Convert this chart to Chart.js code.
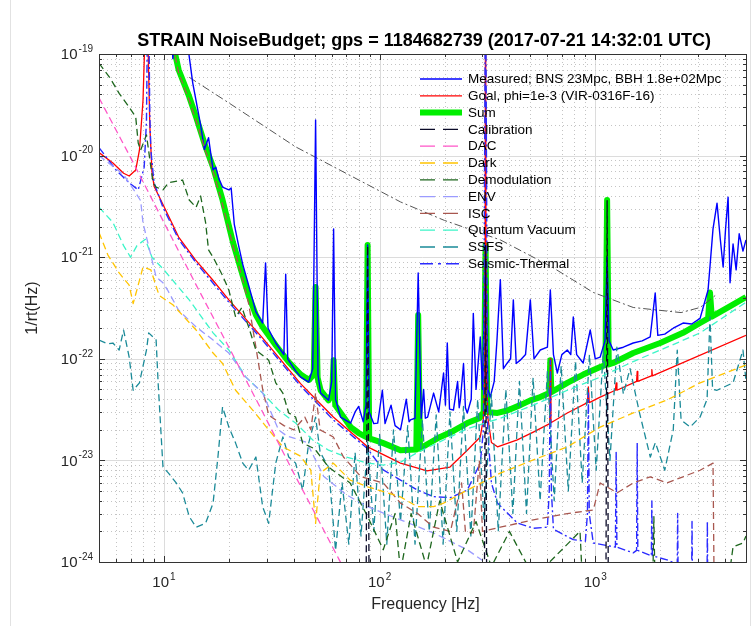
<!DOCTYPE html>
<html>
<head>
<meta charset="utf-8">
<script src="https://cdn.jsdelivr.net/npm/chart.js@4.4.1/dist/chart.umd.min.js"></script>
<style>
  html, body { margin: 0; padding: 0; background: #fff; }
  canvas { display: block; }
</style>
</head>
<body>
<canvas id="budget" width="753" height="626"></canvas>
<script>
// Amplitude spectral densities (strain / rtHz)
const measuredHz = [5, 10, 10.8, 11.0, 11.3, 12.5, 13.6, 14.8, 15.4, 16.1,
  16.6, 16.9, 17.4, 18.0, 18.7, 20.0, 20.5, 21.2, 22.2, 23.2,
  24.7, 25.8, 26.7, 28.7, 29.6, 30.4, 33.0, 36.0, 36.7, 37.5,
  40.8, 43.1, 46.9, 49.0, 50.5, 51.8, 53.3, 58.0, 60.0, 61.2,
  62.5, 65.9, 73.4, 77, 80, 84, 86.5, 88, 89.5, 94,
  98, 103, 106, 113, 118, 125, 133, 137, 139, 146, 151, 156, 160, 163, 167, 178,
  188, 198, 202, 206, 211, 220, 230, 234, 237, 245, 250, 255, 266, 272,
  280, 293, 300, 310, 318, 326, 340, 350, 363, 375,
  391, 405, 417, 430, 449, 475, 500, 520, 556, 600,
  619, 640, 667, 700, 742, 770, 791, 820, 879, 948,
  1000, 1054, 1110, 1135, 1160, 1211, 1350, 1500, 1650, 1798,
  1897, 1950, 2100, 2300, 2553, 2800, 3062, 3335, 3516, 3670,
  3800, 3917, 4020, 4130, 4217, 4355, 4500, 4650, 4841, 5000];
const measuredAsd = [3e-18, 1e-18, 2e-19, 9e-20, 2e-19, 2e-19, 5.2e-20, 2.0e-20, 1.15e-20, 1.5e-20,
  9.5e-21, 7.2e-21, 7.7e-21, 5.9e-21, 4.9e-21, 4.6e-21, 4.8e-21, 2.1e-21, 1.3e-21, 8.5e-22,
  5.3e-22, 3.8e-22, 2.9e-22, 2.25e-22, 8.8e-22, 2.0e-22, 1.43e-22, 1.1e-22, 6.8e-22, 1.0e-22,
  7.6e-23, 6.6e-23, 5.9e-23, 8e-23, 2.24e-20, 7e-23, 4.6e-23, 3.9e-23, 6e-23, 1.9e-21,
  4e-23, 2.67e-23, 2.33e-23, 3.0e-23, 3.4e-23, 2.4e-23, 3.5e-23, 1.32e-21, 3.0e-23, 2.3e-23,
  2.33e-23, 4.9e-23, 2.3e-23, 3.5e-23, 2.2e-23, 2.0e-23, 4e-23, 2.4e-23, 2.5e-23, 2.6e-23, 7e-22, 2.6e-23, 5e-23, 2.6e-23, 2.67e-23, 4.6e-23,
  3.0e-23, 7.25e-23, 3.5e-23, 1.43e-22, 3.2e-23, 3.13e-23, 6e-23, 3.3e-23, 3.93e-23, 9e-23, 3.3e-23, 2.93e-23, 4e-23, 2.8e-22,
  5e-23, 1.64e-22, 5e-23, 1.3e-21, 5e-23, 4.2e-23, 6e-23, 1.5e-22, 6e-22, 8e-23,
  9.1e-23, 1.0e-22, 3.8e-22, 9e-23, 9.7e-23, 1.1e-22, 3.8e-22, 1.0e-22, 1.22e-22, 1.3e-22,
  4.75e-22, 1.1e-22, 7.25e-23, 1.1e-22, 1.22e-22, 1.1e-22, 2.58e-22, 1.1e-22, 9.1e-23, 1.92e-22,
  1.0e-22, 1.04e-22, 1.5e-22, 1.0e-21, 1.5e-22, 1.22e-22, 1.3e-22, 1.43e-22, 1.5e-22, 1.64e-22,
  4.45e-22, 1.7e-22, 1.75e-22, 2.0e-22, 2.25e-22, 2.2e-22, 2.5e-22, 4.75e-22, 1.9e-21, 3.4e-21,
  1.5e-21, 8e-22, 1.9e-21, 3.9e-21, 5.6e-22, 1.35e-21, 7.5e-22, 1.7e-21, 1.15e-21, 1.48e-21];

const goalHz = [5, 5.8, 6.5, 6.9, 7.4, 7.7, 8.0, 8.2, 8.3, 8.4,
  8.6, 8.8, 9.0, 9.9, 11.7, 14, 16.8, 20, 28.7, 43,
  61, 88, 125, 166, 212, 255, 293, 303, 308, 310,
  312, 318, 330, 352, 435, 516, 615, 619, 623, 742,
  920, 929, 938, 1054, 1240, 1250, 1260, 1555, 1565, 1575,
  1820, 1830, 1840, 5000];
const goalAsd = [1.07e-20, 8.45e-21, 6.7e-21, 6.3e-21, 7.2e-21, 1.13e-20, 3.5e-20, 2e-19, 1e-18, 2e-19,
  2e-20, 7e-21, 5e-21, 3.3e-21, 1.58e-21, 9.4e-22, 6.0e-22, 3.8e-22, 1.6e-22, 5.7e-23,
  2.67e-23, 1.36e-23, 9.4e-24, 7.9e-24, 8.6e-24, 1.26e-23, 1.7e-23, 2.6e-23, 8e-23, 1e-18,
  8e-23, 2.6e-23, 1.5e-23, 1.36e-23, 1.59e-23, 1.9e-23, 2.3e-23, 1.0e-22, 2.35e-23, 2.93e-23,
  3.7e-23, 5.3e-23, 3.7e-23, 4.2e-23, 4.9e-23, 5.8e-23, 4.9e-23, 6e-23, 7.5e-23, 6e-23,
  6.8e-23, 7.8e-23, 6.8e-23, 1.7e-22];

const sumHz = [10.5, 11.7, 13.1, 14.1, 15.6, 16.9, 18.7, 20.9, 23.2, 24.7,
  26.7, 28.7, 33, 37.9, 43.1, 47, 49.5, 50.5, 51.6, 53.3,
  58, 60.3, 61.2, 62.3, 73.4, 80, 86.5, 88, 89.5, 98,
  104, 125, 148, 151, 154, 167, 191, 220, 255, 290,
  304, 310, 316, 352, 391, 449, 500, 556, 612, 619,
  626, 742, 879, 1054, 1115, 1135, 1155, 1211, 1500, 2000,
  2553, 3062, 3335, 3404, 3470, 4130, 5000];
const sumAsd = [2e-19, 7.0e-20, 3.8e-20, 2.4e-20, 1.22e-20, 7.7e-21, 3.66e-21, 1.4e-21, 6.6e-22, 4.2e-22,
  2.7e-22, 2.06e-22, 1.36e-22, 9.3e-23, 7.0e-23, 6.2e-23, 7e-23, 5.1e-22, 6.5e-23, 4.9e-23,
  3.9e-23, 4.5e-23, 9.7e-23, 3.5e-23, 2.13e-23, 1.86e-23, 1.7e-23, 1.32e-21, 1.65e-23, 1.55e-23,
  1.48e-23, 1.26e-23, 1.28e-23, 2.7e-22, 1.3e-23, 1.45e-23, 1.7e-23, 1.95e-23, 2.33e-23, 2.6e-23,
  3e-23, 1.32e-21, 3e-23, 2.93e-23, 3.1e-23, 3.5e-23, 3.9e-23, 4.2e-23, 4.6e-23, 9.7e-23,
  4.7e-23, 5.8e-23, 7e-23, 8.3e-23, 8.7e-23, 3.66e-21, 8.8e-23, 9.1e-23, 1.14e-22, 1.43e-22,
  1.8e-22, 2.25e-22, 2.5e-22, 4.5e-22, 2.6e-22, 3.2e-22, 4.06e-22];

const calibHz = [5, 86.5, 88, 89.5, 306, 310, 314, 1120, 1135, 1150, 5000];
const calibAsd = [3e-25, 3e-25, 1.3e-21, 3e-25, 3e-25, 1.3e-21, 3e-25, 3e-25, 3.6e-21, 3e-25, 3e-25];

const dacHz = [5, 7, 10, 14, 20, 28, 40, 52, 65, 90];
const dacAsd = [3.7e-20, 9.6e-21, 2.2e-21, 5.5e-22, 1.3e-22, 3.3e-23, 7.5e-24, 2.6e-24, 1.05e-24, 2.8e-25];

const darkHz = [5, 5.5, 6.2, 6.9, 7.2, 7.5, 8.0, 8.7, 9.5, 11,
  14.1, 16.9, 18.7, 21.5, 25.8, 30.6, 35.6, 43, 48, 50.5,
  53, 61, 73, 88, 125, 150, 178, 198, 255, 363,
  516, 742, 1054, 1500, 2153, 3062, 5000];
const darkAsd = [1.75e-21, 1.05e-21, 7e-22, 5.3e-22, 3.5e-22, 4.8e-22, 8e-22, 7.5e-22, 4.2e-22, 3.4e-22,
  1.92e-22, 1.14e-22, 9e-23, 4.9e-23, 3.13e-23, 2.0e-23, 1.36e-23, 1.1e-23, 8e-24, 2.4e-24,
  7.5e-24, 9.4e-24, 6.4e-24, 5.5e-24, 4.37e-24, 3.5e-24, 3.5e-24, 3.8e-24, 5.1e-24, 7.5e-24,
  1.01e-23, 1.36e-23, 2.13e-23, 2.93e-23, 3.93e-23, 5.8e-23, 8.7e-23];

const demodHz = [5, 5.6, 6.2, 6.9, 7.4, 7.6, 7.8, 8.3, 8.9, 9.2,
  9.9, 10.5, 12.2, 13.1, 14.1, 14.8, 15.6, 16.1, 16.9, 18.7,
  20, 21.5, 23, 24.7, 26.7, 30.6, 33, 35.6, 37.9, 40.8,
  44, 50, 58, 73, 88, 104, 118, 125, 140, 165,
  190, 230, 280, 330, 400, 520, 850, 870, 1850, 1870,
  1890, 4200, 4355, 4841, 5000];
const demodAsd = [8.1e-20, 5.9e-20, 4.1e-20, 3.0e-20, 2.4e-20, 1.33e-20, 1.13e-20, 1.6e-20, 5.4e-21, 4.9e-21,
  4.6e-21, 5.4e-21, 5.75e-21, 3.66e-21, 3.1e-21, 4e-21, 2.2e-21, 1.18e-21, 1.0e-21, 6.6e-22,
  4.75e-22, 2.58e-22, 3.2e-22, 2.06e-22, 1.22e-22, 9.7e-23, 5.8e-23, 4.6e-23, 2.93e-23, 2.67e-23,
  1.48e-23, 1.3e-23, 8.6e-24, 6e-24, 2.8e-24, 1.32e-24, 3e-24, 8e-25, 3e-24, 9e-25,
  4e-24, 1e-24, 2.5e-24, 9e-25, 2e-24, 7e-25, 2e-24, 7e-25, 7e-25, 2.8e-24,
  7e-25, 8e-25, 1.41e-24, 1.54e-24, 1.8e-24];

const envHz = [5, 6.5, 7.4, 7.8, 8.0, 9.2, 9.9, 10.4, 11.7, 14.1,
  16.9, 20, 24, 28.7, 34, 37, 46, 55, 70, 88,
  125, 178, 255, 330, 400];
const envAsd = [1.0e-20, 6.5e-21, 4.3e-21, 3.6e-21, 2.17e-21, 6.4e-22, 5.6e-22, 4.75e-22, 3.0e-22, 2.06e-22,
  1.53e-22, 1.14e-22, 6.6e-23, 4.6e-23, 2.0e-23, 1.75e-23, 1.5e-23, 7e-24, 4.6e-24, 3.5e-24,
  2.6e-24, 1.93e-24, 1.32e-24, 9e-25, 6e-25];

const iscHz = [10.5, 11.7, 13.1, 14.1, 15.6, 16.9, 18.7, 20.9, 23.2, 24.7,
  26.7, 28.7, 30.6, 33, 36, 40, 45, 48, 50.5, 53,
  61, 68, 82, 104, 125, 150, 178, 213, 240, 250,
  272, 290, 300, 363, 516, 742, 979, 1054, 1265, 1500,
  1800, 2153, 2553, 3062, 3516, 3560, 5000];
const iscAsd = [2e-19, 6.5e-20, 3.5e-20, 2.2e-20, 1.1e-20, 7e-21, 3.3e-21, 1.3e-21, 6e-22, 3.5e-22,
  1.3e-22, 5e-23, 2.8e-23, 2.5e-23, 2.2e-23, 2.0e-23, 2.67e-23, 2e-23, 4.6e-23, 2e-23,
  1.7e-23, 1.08e-23, 6.9e-24, 6e-24, 3.8e-24, 3e-24, 2.2e-24, 2e-24, 6e-24, 2e-24,
  1.93e-24, 1e-23, 2e-24, 2.2e-24, 2.6e-24, 3e-24, 3.25e-24, 6e-24, 4.8e-24, 6e-24,
  6.9e-24, 6e-24, 6.9e-24, 8e-24, 9.4e-24, 5e-25, 5e-25];

const qvHz = [5, 5.8, 6.5, 7.0, 7.5, 8.2, 8.8, 10, 13.1, 16.9,
  20, 24, 28.7, 34, 40.8, 49, 58, 70, 88, 104,
  125, 150, 255, 363, 516, 742, 1054, 1500, 2153, 3062,
  5000];
const qvAsd = [3.1e-21, 2.2e-21, 1.3e-21, 1.0e-21, 1.3e-21, 1.5e-21, 1.0e-21, 7.5e-22, 3.8e-22, 1.8e-22,
  1.22e-22, 6.6e-23, 4.6e-23, 3.13e-23, 2.33e-23, 1.59e-23, 1.26e-23, 1.08e-23, 9.4e-24, 9.0e-24,
  9.6e-24, 1.2e-23, 2.05e-23, 2.6e-23, 3.5e-23, 4.9e-23, 6.6e-23, 9.4e-23, 1.3e-22, 1.8e-22,
  3.6e-22];

const ssfsHz = [5, 5.5, 5.8, 6.2, 6.5, 6.9, 7.2, 7.7, 8.3, 8.5,
  9.2, 9.4, 9.9, 10.5, 11.4, 12.2, 13.1, 14.1, 15.6, 16.9,
  17.8, 18.7, 20, 21.5, 23.2, 24.7, 26.7, 28.7, 30.6, 33,
  35.6, 37.9, 40.8, 44, 46.9, 50.5, 53, 58, 62.5, 67,
  72, 77, 82, 88, 94, 100, 108, 116, 125, 135,
  146, 158, 170, 183, 197, 212, 228, 245, 265, 285,
  305, 330, 355, 385, 415, 445, 480, 515, 555, 600,
  645, 695, 750, 810, 870, 940, 1010, 1090, 1170, 1260,
  1350, 1450, 1600, 1800, 1900, 2100, 2300, 2400, 2500, 2754,
  3062, 3300, 3404, 3500, 3670, 4355, 4841, 5000];
const ssfsAsd = [1.53e-22, 1.4e-22, 1.43e-22, 1.22e-22, 1.92e-22, 1.04e-22, 4.9e-23, 5.8e-23, 1.22e-22, 1.8e-22,
  1.53e-22, 5.8e-23, 8.6e-24, 7.5e-24, 6e-24, 4.8e-24, 2.8e-24, 2.2e-24, 2.4e-24, 3.8e-24,
  1.08e-23, 3.36e-23, 2.13e-23, 1.48e-23, 9.4e-24, 8e-24, 1.08e-23, 3.5e-24, 2.4e-24, 9.4e-24,
  1.7e-23, 1.08e-23, 9.4e-24, 5.1e-24, 1.48e-23, 2.67e-23, 1.2e-23, 8.6e-24, 1.3e-24, 6e-24,
  1.5e-24, 1.2e-23, 1.8e-24, 1.5e-23, 2e-24, 1.8e-23, 1.5e-24, 2e-23, 2.5e-24, 2.2e-23,
  1.5e-24, 2.5e-23, 2e-24, 2.8e-23, 1.5e-24, 3e-23, 2e-24, 3.4e-23, 1.8e-24, 4e-23,
  2.5e-24, 4.5e-23, 2e-24, 5e-23, 3e-24, 6e-23, 3e-24, 6.5e-23, 4e-24, 7.5e-23,
  4e-24, 8.5e-23, 5e-24, 9.5e-23, 6e-24, 1.1e-22, 8e-24, 1.2e-22, 1e-23, 1.3e-22,
  4.5e-23, 8e-23, 3e-23, 1.08e-23, 1.5e-23, 8e-24, 2e-23, 1.22e-22, 2.5e-23, 2.13e-23,
  2.67e-23, 4e-23, 2.58e-22, 5e-23, 4.9e-23, 5.8e-23, 1.22e-22, 6e-23];

const seismicHz = [5, 6.0, 6.9, 7.6, 8.1, 8.3, 8.45, 8.6, 8.7, 9.0,
  9.9, 11.7, 14, 20, 28.7, 43, 61, 88, 104, 125,
  150, 178, 213, 255, 293, 303, 310, 317, 330, 352,
  435, 516, 600, 612, 619, 626, 640, 689, 791, 900,
  920, 929, 938, 979, 1240, 1250, 1260, 1500, 1555, 1565,
  1575, 1820, 1830, 1840, 2153, 2400, 2410, 2420, 2800, 2810,
  2820, 3300, 3310, 3320, 5000];
const seismicAsd = [1.2e-20, 7.2e-21, 5.4e-21, 4.6e-21, 7.7e-21, 2.2e-20, 1e-18, 2.5e-20, 1.13e-20, 5.4e-21,
  3.1e-21, 1.5e-21, 9.0e-22, 3.6e-22, 1.52e-22, 5.4e-23, 2.5e-23, 1.3e-23, 8.05e-24, 6.4e-24,
  5.1e-24, 4.4e-24, 4.3e-24, 5.1e-24, 9.4e-24, 2e-23, 1e-18, 2e-23, 6e-24, 3.8e-24,
  2.42e-24, 2.15e-24, 2.2e-24, 5e-24, 9.7e-23, 5e-24, 2.1e-24, 1.93e-24, 1.66e-24, 1.6e-24,
  3e-24, 4.6e-23, 3e-24, 1.54e-24, 1.4e-24, 1.2e-23, 1.4e-24, 1.23e-24, 1.3e-24, 1.48e-23,
  1.3e-24, 1.15e-24, 4e-24, 1.15e-24, 1.05e-24, 9.5e-25, 3e-24, 9.5e-25, 8.5e-25, 2.5e-24,
  8.5e-25, 7.5e-25, 2.5e-24, 7.5e-25, 5e-25];

// unlabelled grey dash-dot reference curve
const refHz = [13.1, 20, 40.8, 125, 200, 363, 630, 979, 1500, 2500, 3062, 3400, 3600];
const refAsd = [5.9e-20, 3.3e-20, 1.22e-20, 3.5e-21, 2.3e-21, 1.48e-21, 8e-22, 4.5e-22, 3.2e-22, 2.85e-22, 3.2e-22, 3.8e-22, 4.2e-22];

const xDecades = [1, 2, 3];
const yDecades = [-19, -20, -21, -22, -23, -24];

const FONT = '"Liberation Sans", Arial, Helvetica, sans-serif';
const DASH = [7, 4];
const DASHDOT = [8, 3, 2, 3];

const series = [
  { label: 'Measured; BNS 23Mpc, BBH 1.8e+02Mpc', hz: measuredHz, asd: measuredAsd, color: '#0000ff', width: 1.4, dash: [], order: 3 },
  { label: 'Goal, phi=1e-3 (VIR-0316F-16)', hz: goalHz, asd: goalAsd, color: '#ff0000', width: 1.3, dash: [], order: 2 },
  { label: 'Sum', hz: sumHz, asd: sumAsd, color: '#00ee00', width: 6, dash: [], order: 20 },
  { label: 'Calibration', hz: calibHz, asd: calibAsd, color: '#0a0a28', width: 1.3, dash: DASH, order: 1 },
  { label: 'DAC', hz: dacHz, asd: dacAsd, color: '#ff55c8', width: 1.3, dash: DASH, order: 1 },
  { label: 'Dark', hz: darkHz, asd: darkAsd, color: '#ffc400', width: 1.3, dash: DASH, order: 1 },
  { label: 'Demodulation', hz: demodHz, asd: demodAsd, color: '#1d661d', width: 1.3, dash: DASH, order: 1 },
  { label: 'ENV', hz: envHz, asd: envAsd, color: '#9b9bff', width: 1.3, dash: DASH, order: 1 },
  { label: 'ISC', hz: iscHz, asd: iscAsd, color: '#a8574f', width: 1.3, dash: DASH, order: 1 },
  { label: 'Quantum Vacuum', hz: qvHz, asd: qvAsd, color: '#3cf5c8', width: 1.3, dash: DASH, order: 1 },
  { label: 'SSFS', hz: ssfsHz, asd: ssfsAsd, color: '#1a8a98', width: 1.3, dash: DASH, order: 1 },
  { label: 'Seismic-Thermal', hz: seismicHz, asd: seismicAsd, color: '#2b2bff', width: 1.4, dash: DASHDOT, order: 1 },
  { label: '', hz: refHz, asd: refAsd, color: '#555555', width: 1, dash: DASHDOT, order: 4, hidden: true }
];

function pairs(hz, asd) {
  return hz.map((f, i) => ({ x: f, y: asd[i] }));
}

const datasets = series.map(s => ({
  label: s.label,
  data: pairs(s.hz, s.asd),
  borderColor: s.color,
  borderWidth: s.width,
  borderDash: s.dash,
  borderJoinStyle: 'round',
  pointRadius: 0,
  fill: false,
  tension: 0,
  order: s.order,
  clip: 0
}));

function power(ctx, exp, x, y, align) {
  ctx.font = '15px ' + FONT;
  const wb = ctx.measureText('10').width;
  ctx.font = '10px ' + FONT;
  const we = ctx.measureText(exp).width;
  const total = wb + 1 + we;
  const x0 = align === 'right' ? x - total : x - total / 2;
  ctx.textAlign = 'left';
  ctx.textBaseline = 'middle';
  ctx.font = '15px ' + FONT;
  ctx.fillText('10', x0, y);
  ctx.font = '10px ' + FONT;
  ctx.fillText(exp, x0 + wb + 1, y - 6);
}

const frame = {
  id: 'frame',
  beforeDatasetsDraw(chart) {
    const { ctx, chartArea: a, scales: { x, y } } = chart;
    ctx.save();
    ctx.lineWidth = 1;
    for (let e = 0; e <= 3; e++) {
      for (let m = 1; m <= 9; m++) {
        const v = m * Math.pow(10, e);
        if (v <= 5 || v >= 5000) continue;
        const px = Math.round(x.getPixelForValue(v)) + 0.5;
        ctx.strokeStyle = m === 1 ? '#dcdcdc' : '#c4c4c4';
        ctx.setLineDash(m === 1 ? [] : [1, 3]);
        ctx.beginPath(); ctx.moveTo(px, a.top); ctx.lineTo(px, a.bottom); ctx.stroke();
      }
    }
    for (let e = -24; e <= -20; e++) {
      for (let m = 1; m <= 9; m++) {
        const v = m * Math.pow(10, e);
        if (v <= 1e-24) continue;
        const py = Math.round(y.getPixelForValue(v)) + 0.5;
        ctx.strokeStyle = m === 1 ? '#dcdcdc' : '#c4c4c4';
        ctx.setLineDash(m === 1 ? [] : [1, 3]);
        ctx.beginPath(); ctx.moveTo(a.left, py); ctx.lineTo(a.right, py); ctx.stroke();
      }
    }
    ctx.restore();
  },
  afterDatasetsDraw(chart) {
    const { ctx, chartArea: a, scales: { x, y } } = chart;
    ctx.save();
    // ticks and box
    ctx.strokeStyle = '#333';
    ctx.lineWidth = 1;
    ctx.setLineDash([]);
    ctx.beginPath();
    for (let e = 0; e <= 3; e++) {
      for (let m = 1; m <= 9; m++) {
        const v = m * Math.pow(10, e);
        if (v <= 5 || v >= 5000) continue;
        const px = Math.round(x.getPixelForValue(v)) + 0.5;
        const len = m === 1 ? 6 : 3;
        ctx.moveTo(px, a.bottom); ctx.lineTo(px, a.bottom - len);
        ctx.moveTo(px, a.top); ctx.lineTo(px, a.top + len);
      }
    }
    for (let e = -24; e <= -20; e++) {
      for (let m = 1; m <= 9; m++) {
        const v = m * Math.pow(10, e);
        if (v <= 1e-24) continue;
        const py = Math.round(y.getPixelForValue(v)) + 0.5;
        const len = m === 1 ? 6 : 3;
        ctx.moveTo(a.left, py); ctx.lineTo(a.left + len, py);
        ctx.moveTo(a.right, py); ctx.lineTo(a.right - len, py);
      }
    }
    ctx.stroke();
    ctx.strokeRect(Math.round(a.left) + 0.5, Math.round(a.top) + 0.5,
      Math.round(a.right - a.left), Math.round(a.bottom - a.top));

    // tick labels
    ctx.fillStyle = '#262626';
    xDecades.forEach(d => power(ctx, String(d), x.getPixelForValue(Math.pow(10, d)), 583, 'center'));
    yDecades.forEach(d => power(ctx, String(d), 93, y.getPixelForValue(Math.pow(10, d)) + 1, 'right'));

    // axis titles
    ctx.textAlign = 'center';
    ctx.textBaseline = 'middle';
    ctx.font = '16px ' + FONT;
    ctx.fillText('Frequency [Hz]', (a.left + a.right) / 2 + 3, 605);
    ctx.save();
    ctx.translate(33, (a.top + a.bottom) / 2);
    ctx.rotate(-Math.PI / 2);
    ctx.fillText('1/rt(Hz)', 0, 0);
    ctx.restore();

    // title
    ctx.fillStyle = '#000';
    ctx.font = 'bold 18px ' + FONT;
    ctx.textBaseline = 'alphabetic';
    ctx.fillText('STRAIN NoiseBudget; gps = 1184682739 (2017-07-21 14:32:01 UTC)', 424, 46);

    // legend (transparent, inside the axes)
    ctx.textAlign = 'left';
    ctx.textBaseline = 'middle';
    ctx.font = '13.5px ' + FONT;
    series.filter(s => !s.hidden).forEach((s, i) => {
      const ly = 79 + i * 16.8;
      ctx.strokeStyle = s.color;
      ctx.lineWidth = s.width;
      ctx.setLineDash(s.dash.length === 0 ? [] : (s.dash.length === 4 ? [13, 5, 3, 5] : [15, 8]));
      ctx.beginPath(); ctx.moveTo(420, ly); ctx.lineTo(462, ly); ctx.stroke();
      ctx.fillStyle = '#000';
      ctx.fillText(s.label, 468, ly + 0.5);
    });

    // faint figure edges
    ctx.setLineDash([]);
    ctx.strokeStyle = '#e2e2e2';
    ctx.lineWidth = 1;
    ctx.beginPath();
    ctx.moveTo(10.5, 0); ctx.lineTo(10.5, 626);
    ctx.moveTo(750.5, 0); ctx.lineTo(750.5, 626);
    ctx.stroke();
    ctx.restore();
  }
};

new Chart(document.getElementById('budget').getContext('2d'), {
  type: 'line',
  data: { datasets },
  options: {
    responsive: false,
    animation: false,
    devicePixelRatio: 1,
    layout: { padding: { left: 0, right: 7, top: 54, bottom: 0 } },
    plugins: { legend: { display: false }, title: { display: false }, tooltip: { enabled: false } },
    scales: {
      x: {
        type: 'logarithmic', min: 5, max: 5000,
        grid: { display: false }, border: { display: false }, ticks: { display: false },
        afterFit(s) { s.height = 64; }
      },
      y: {
        type: 'logarithmic', min: 1e-24, max: 1e-19,
        grid: { display: false }, border: { display: false }, ticks: { display: false },
        afterFit(s) { s.width = 99; }
      }
    }
  },
  plugins: [frame]
});
</script>
</body>
</html>
